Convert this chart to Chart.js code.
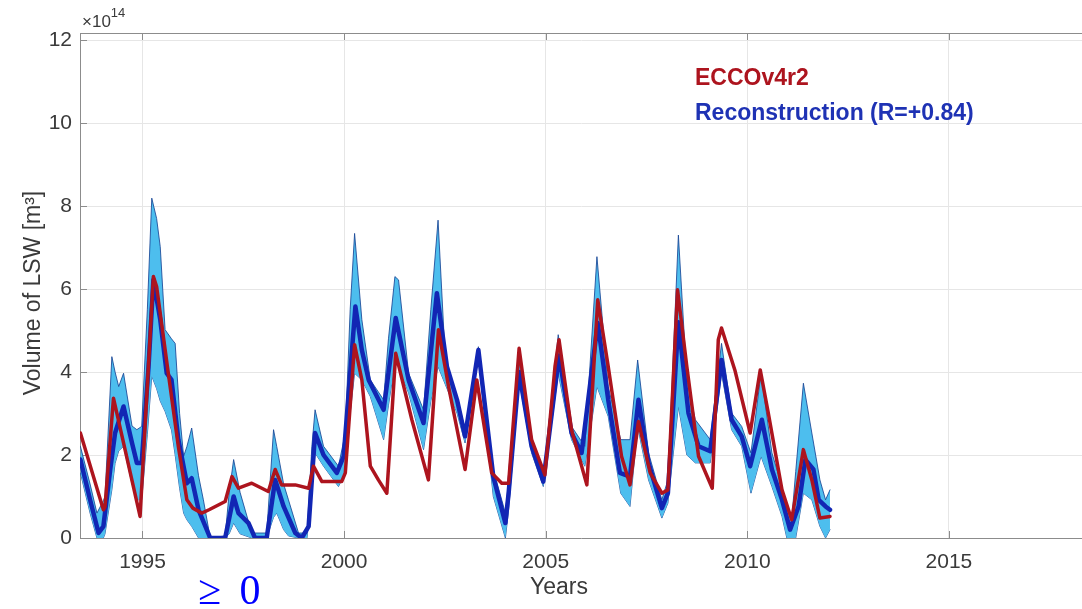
<!DOCTYPE html>
<html>
<head>
<meta charset="utf-8">
<script src="https://cdn.jsdelivr.net/npm/chart.js@4.4.1/dist/chart.umd.min.js"></script>
<style>
  html, body { margin: 0; padding: 0; background: #fff; }
  #wrap { width: 1082px; height: 609px; position: relative; }
</style>
</head>
<body>
<div id="wrap"><canvas id="lswChart"></canvas></div>
<script>
'use strict';

// ECCOv4r2 (red line), years and volume in 1e14 m^3
const eccoYears = [1993.46, 1994.03, 1994.07, 1994.28, 1994.94, 1995.27, 1995.35, 1995.64, 1995.89, 1996.1,
  1996.25, 1996.47, 1996.65, 1997.05, 1997.22, 1997.38, 1997.71, 1998.12, 1998.29, 1998.45,
  1998.79, 1999.12, 1999.24, 1999.45, 1999.94, 2000.03, 2000.26, 2000.44, 2000.65, 2000.85,
  2001.06, 2001.28, 2001.68, 2002.09, 2002.34, 2002.59, 2003.0, 2003.29, 2003.66, 2003.91,
  2004.08, 2004.34, 2004.65, 2004.98, 2005.23, 2005.33, 2005.64, 2006.02, 2006.29, 2006.55,
  2006.88, 2007.09, 2007.3, 2007.59, 2007.88, 2008.03, 2008.27, 2008.5, 2008.79, 2009.13,
  2009.28, 2009.36, 2009.69, 2010.07, 2010.32, 2010.52, 2010.86, 2011.1, 2011.39, 2011.6,
  2011.8, 2012.05];
const eccoValues = [2.53, 0.68, 0.75, 3.37, 0.52, 6.3, 6.06, 3.97, 2.2, 0.92,
  0.72, 0.6, 0.68, 0.88, 1.48, 1.2, 1.32, 1.12, 1.65, 1.28,
  1.28, 1.2, 1.73, 1.36, 1.36, 1.57, 4.66, 3.81, 1.73, 1.4,
  1.08, 4.45, 2.85, 1.4, 5.02, 3.65, 1.65, 3.81, 1.57, 1.32,
  1.32, 4.57, 2.37, 1.52, 4.13, 4.78, 2.61, 1.28, 5.74, 4.13,
  1.97, 1.28, 2.81, 1.57, 1.08, 1.16, 5.98, 4.13, 1.97, 1.2,
  4.78, 5.06, 4.05, 2.53, 4.05, 3.01, 1.16, 0.44, 2.13, 1.4,
  0.48, 0.52];

// Reconstruction (blue line)
const reconYears = [1993.46, 1993.7, 1993.91, 1994.03, 1994.2, 1994.32, 1994.53, 1994.74, 1994.86, 1994.98,
  1995.15, 1995.27, 1995.44, 1995.6, 1995.72, 1995.89, 1996.1, 1996.22, 1996.39, 1996.68,
  1997.05, 1997.26, 1997.38, 1997.63, 1997.79, 1998.08, 1998.29, 1998.5, 1998.79, 1998.95,
  1999.12, 1999.28, 1999.49, 1999.82, 1999.99, 2000.28, 2000.44, 2000.61, 2000.98, 2001.28,
  2001.6, 2001.97, 2002.3, 2002.55, 2002.8, 2003.0, 2003.33, 2003.7, 2004.0, 2004.08,
  2004.34, 2004.65, 2004.94, 2005.33, 2005.64, 2005.89, 2006.29, 2006.55, 2006.84, 2007.09,
  2007.3, 2007.55, 2007.88, 2008.03, 2008.29, 2008.54, 2008.79, 2009.08, 2009.36, 2009.61,
  2009.86, 2010.07, 2010.36, 2010.61, 2010.86, 2011.06, 2011.27, 2011.44, 2011.64, 2011.77,
  2011.94, 2012.05];
const reconValues = [1.89, 0.92, 0.12, 0.28, 1.65, 2.53, 3.17, 2.29, 1.81, 1.81,
  4.13, 6.22, 5.26, 3.97, 3.81, 2.37, 1.32, 1.44, 0.68, 0,
  0, 1.0, 0.6, 0.36, 0, 0, 1.4, 0.76, 0.12, 0,
  0.28, 2.53, 2.0, 1.57, 1.97, 5.58, 4.53, 3.81, 3.09, 5.3,
  3.81, 2.77, 5.9, 4.13, 3.33, 2.45, 4.53, 1.48, 0.36, 1.08,
  4.0, 2.21, 1.36, 4.4, 2.53, 2.05, 5.18, 3.33, 1.57, 1.48,
  3.33, 1.81, 0.72, 1.08, 5.2, 3.01, 2.21, 2.09, 4.29, 2.85,
  2.45, 1.73, 2.85, 1.65, 0.92, 0.2, 0.76, 1.89, 1.65, 0.92,
  0.76, 0.68];

// Reconstruction uncertainty band (light blue)
const bandYears = [1993.46, 1993.7, 1993.87, 1994.03, 1994.07, 1994.24, 1994.32, 1994.41, 1994.53, 1994.74,
  1994.86, 1994.98, 1995.12, 1995.23, 1995.35, 1995.44, 1995.56, 1995.72, 1995.81, 1995.92,
  1996.02, 1996.1, 1996.22, 1996.39, 1996.51, 1996.68, 1997.05, 1997.15, 1997.26, 1997.42,
  1997.71, 1998.08, 1998.25, 1998.33, 1998.5, 1998.62, 1998.87, 1999.08, 1999.2, 1999.28,
  1999.49, 1999.86, 2000.03, 2000.15, 2000.26, 2000.44, 2000.65, 2000.98, 2001.1, 2001.26,
  2001.35, 2001.6, 2001.97, 2002.15, 2002.33, 2002.51, 2002.8, 2003.0, 2003.33, 2003.7,
  2004.0, 2004.08, 2004.34, 2004.65, 2004.94, 2005.31, 2005.64, 2005.97, 2006.27, 2006.55,
  2006.86, 2007.09, 2007.28, 2007.55, 2007.88, 2008.03, 2008.29, 2008.5, 2008.71, 2009.08,
  2009.36, 2009.61, 2009.86, 2010.09, 2010.34, 2010.61, 2010.86, 2010.98, 2011.1, 2011.2,
  2011.39, 2011.6, 2011.8, 2011.94, 2012.05];
const bandLow = [1.57, 0.6, 0, 0, 0.1, 1.16, 1.8, 2.1, 2.21, 1.3,
  0.92, 0.92, 2.5, 3.9, 3.6, 3.3, 3.05, 2.6, 2.0, 1.2,
  0.6, 0.44, 0.28, 0, 0, 0, 0, 0.1, 0.36, 0.1,
  0, 0, 0.5, 0.6, 0.2, 0.05, 0, 0, 1.2, 2.05,
  1.73, 1.24, 1.57, 3.0, 3.97, 3.81, 3.41, 2.37, 3.2, 4.21,
  4.13, 3.49, 2.13, 3.3, 4.13, 3.7, 3.01, 2.29, 4.37, 1.0,
  0, 0.68, 3.81, 2.05, 1.24, 3.97, 2.37, 1.73, 3.65, 2.93,
  1.08, 0.76, 2.69, 1.4, 0.48, 0.84, 3.17, 2.0, 1.81, 1.81,
  3.97, 2.61, 2.21, 1.08, 1.97, 1.24, 0.52, 0, 0, 0,
  1.08, 0.92, 0.28, 0, 0.2];
const bandHigh = [2.21, 1.3, 0.6, 0.9, 1.0, 4.37, 4.0, 3.65, 3.97, 2.7,
  2.61, 2.69, 5.5, 8.19, 7.7, 7.02, 5.02, 4.8, 4.69, 3.0,
  1.97, 2.2, 2.65, 1.5, 0.92, 0, 0.05, 1.1, 1.89, 1.1,
  0.12, 0.12, 2.61, 2.2, 1.3, 0.92, 0.12, 0.12, 2.2, 3.09,
  2.21, 1.73, 2.53, 5.5, 7.34, 5.26, 3.81, 3.33, 4.8, 6.3,
  6.22, 3.97, 3.09, 5.5, 7.66, 4.29, 3.41, 2.61, 4.61, 1.65,
  0.6, 1.4, 4.25, 2.37, 1.48, 4.9, 2.69, 2.21, 6.78, 3.65,
  2.37, 2.37, 4.29, 2.05, 0.92, 1.4, 7.3, 3.81, 2.85, 2.37,
  4.69, 3.01, 2.69, 2.05, 3.97, 2.05, 1.24, 0.7, 0.44, 1.6,
  3.73, 2.53, 1.4, 0.92, 1.16];

const xTickValues = [1995, 2000, 2005, 2010, 2015];
const yTickValues = [0, 2, 4, 6, 8, 10, 12];

const axisGrey = '#8c8c8c';
const textGrey = '#3a3a3a';
const sans = "'Liberation Sans', Arial, sans-serif";

function toPoints(xs, ys) {
  return xs.map((x, i) => ({ x: x, y: ys[i] }));
}

// inward ticks, top box line and all the free text
const decorPlugin = {
  id: 'decor',
  beforeDatasetsDraw(chart) {
    const ctx = chart.ctx;
    const area = chart.chartArea;
    const xs = chart.scales.x;
    const ys = chart.scales.y;
    ctx.save();
    ctx.strokeStyle = axisGrey;
    ctx.lineWidth = 1;
    ctx.beginPath();
    ctx.moveTo(area.left, area.top + 0.5);
    ctx.lineTo(area.right, area.top + 0.5);
    xTickValues.forEach(v => {
      const px = Math.round(xs.getPixelForValue(v)) + 0.5;
      ctx.moveTo(px, area.bottom);
      ctx.lineTo(px, area.bottom - 7);
      ctx.moveTo(px, area.top);
      ctx.lineTo(px, area.top + 7);
    });
    yTickValues.forEach(v => {
      const py = Math.round(ys.getPixelForValue(v)) + 0.5;
      ctx.moveTo(area.left, py);
      ctx.lineTo(area.left + 7, py);
    });
    ctx.stroke();
    ctx.restore();
  },
  afterDraw(chart) {
    const ctx = chart.ctx;
    ctx.save();
    ctx.fillStyle = textGrey;
    ctx.textBaseline = 'alphabetic';

    // exponent
    ctx.textAlign = 'left';
    ctx.font = '17px ' + sans;
    ctx.fillText('\u00d710', 82, 27);
    const w = ctx.measureText('\u00d710').width;
    ctx.font = '13px ' + sans;
    ctx.fillText('14', 82 + w, 17);

    // axis titles
    ctx.font = '23px ' + sans;
    ctx.textAlign = 'center';
    ctx.fillText('Years', 559, 594);
    ctx.save();
    ctx.translate(40, 293);
    ctx.rotate(-Math.PI / 2);
    ctx.fillText('Volume of LSW [m\u00b3]', 0, 0);
    ctx.restore();

    // legend text
    ctx.textAlign = 'left';
    ctx.font = 'bold 23px ' + sans;
    const ds = chart.data.datasets;
    ctx.fillStyle = ds[0].borderColor;
    ctx.fillText(ds[0].label, 695, 85);
    ctx.fillStyle = '#1e32b4';
    ctx.fillText(ds[1].label, 695, 120);

    // stray annotation under the axis
    ctx.fillStyle = '#0000ff';
    ctx.font = "42px 'Liberation Serif', 'Times New Roman', serif";
    ctx.letterSpacing = '4px';
    ctx.fillText('\u2265 0', 198, 604);
    ctx.restore();
  }
};

const lineLook = {
  pointRadius: 0,
  tension: 0,
  borderJoinStyle: 'round',
  borderCapStyle: 'round'
};

const chartData = {
  datasets: [
    Object.assign({
      label: 'ECCOv4r2',
      data: toPoints(eccoYears, eccoValues),
      borderColor: '#ad141e',
      borderWidth: 3.5,
      fill: false
    }, lineLook),
    Object.assign({
      label: 'Reconstruction (R=+0.84)',
      data: toPoints(reconYears, reconValues),
      borderColor: '#1226b4',
      borderWidth: 4.5,
      fill: false
    }, lineLook),
    Object.assign({
      label: 'upper',
      data: toPoints(bandYears, bandHigh),
      borderColor: 'rgba(25, 70, 150, 0.85)',
      backgroundColor: '#4dbeee',
      borderWidth: 1,
      fill: '+1'
    }, lineLook),
    Object.assign({
      label: 'lower',
      data: toPoints(bandYears, bandLow),
      borderColor: 'rgba(25, 70, 150, 0.85)',
      borderWidth: 1,
      fill: false
    }, lineLook)
  ]
};

const config = {
  type: 'line',
  data: chartData,
  options: {
    responsive: true,
    maintainAspectRatio: false,
    animation: false,
    layout: { padding: { top: 33, left: 0, right: 0, bottom: 0 } },
    plugins: {
      legend: { display: false },
      tooltip: { enabled: false }
    },
    scales: {
      x: {
        type: 'linear',
        min: 1993.45,
        max: 2018.3,
        afterBuildTicks: (scale) => { scale.ticks = xTickValues.map(v => ({ value: v })); },
        afterFit: (scale) => { scale.height = 71; },
        grid: { color: '#e6e6e6', drawTicks: false },
        border: { color: axisGrey },
        ticks: {
          padding: 12,
          maxRotation: 0,
          color: textGrey,
          font: { family: sans, size: 21 },
          callback: (v) => String(v)
        }
      },
      y: {
        type: 'linear',
        min: 0,
        max: 12.17,
        afterBuildTicks: (scale) => { scale.ticks = yTickValues.map(v => ({ value: v })); },
        afterFit: (scale) => { scale.width = 80; },
        grid: { color: '#e6e6e6', drawTicks: false },
        border: { color: axisGrey },
        ticks: {
          padding: 8,
          color: textGrey,
          font: { family: sans, size: 21 }
        }
      }
    }
  },
  plugins: [decorPlugin]
};

let lswCanvas = document.getElementById('lswChart').getContext('2d');
const lswChart = new Chart(lswCanvas, config);
</script>
</body>
</html>
